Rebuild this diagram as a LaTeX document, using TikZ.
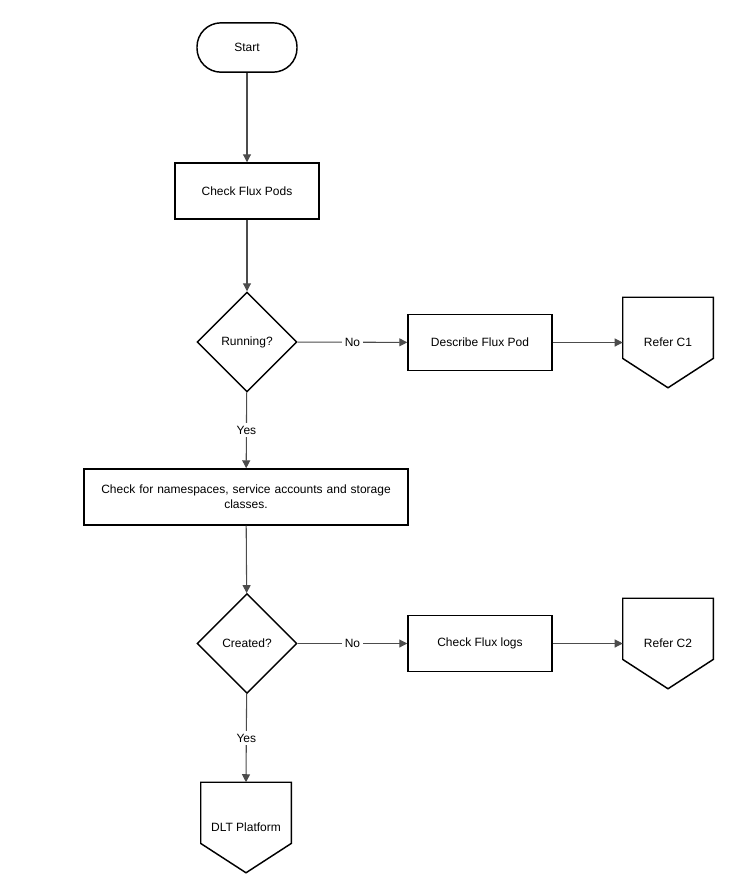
\documentclass[tikz,border=0pt]{standalone}
\usepackage{fontspec}
\setmainfont{Liberation Sans}
\usetikzlibrary{shapes.geometric,arrows.meta}
\begin{document}
\begin{tikzpicture}[x=0.75pt,y=-0.75pt,
  every node/.style={font=\fontsize{9}{11}\selectfont},
  box/.style={draw,line width=1.1pt,minimum width=108pt,minimum height=42pt,inner sep=0pt},
  dec/.style={draw,diamond,aspect=1,line width=1.1pt,minimum width=75pt,minimum height=75pt,inner sep=0pt},
  pent/.style={minimum width=67.5pt,minimum height=67.5pt,inner sep=0pt},
  arr/.style={draw=black!70,line width=0.8pt,-{Triangle[length=6pt,width=6pt]}},
  lbl/.style={fill=white,inner sep=2pt}]
\useasboundingbox (0,0) rectangle (739,893);
\node[draw,rounded corners=18pt,line width=1.1pt,minimum width=75pt,minimum height=37pt] (start) at (247,47.5) {Start};
\node[box] (pods) at (247,191) {Check Flux Pods};
\node[dec] (run) at (247,342) {Running?};
\node[box] (desc) at (480,342.5) {Describe Flux Pod};
\node[pent] (c1) at (668,342.5) {Refer C1};
\node[box,minimum width=243pt,text width=236pt,align=center] (ns) at (246,497) {Check for namespaces, service accounts and storage\\classes.};
\node[dec] (cre) at (247,643.5) {Created?};
\node[box] (logs) at (480,643.5) {Check Flux logs};
\node[pent] (c2) at (668,643.5) {Refer C2};
\node[pent] (dlt) at (246,827.5) {DLT Platform};
\foreach \n in {c1,c2,dlt}{
  \draw[line width=1.1pt] (\n.north west) -- (\n.north east) -- ([yshift=22pt]\n.south east) -- (\n.south) -- ([yshift=22pt]\n.south west) -- cycle;}
\draw[arr] (start) -- (pods);
\draw[arr] (pods) -- (run);
\draw[arr] (run) -- node[lbl]{No} (desc);
\draw[arr] (desc) -- (c1);
\draw[arr] (run) -- node[lbl]{Yes} (ns);
\draw[arr] (ns) -- (cre);
\draw[arr] (cre) -- node[lbl]{No} (logs);
\draw[arr] (logs) -- (c2);
\draw[arr] (cre) -- node[lbl]{Yes} (dlt.north);
\end{tikzpicture}
\end{document}
